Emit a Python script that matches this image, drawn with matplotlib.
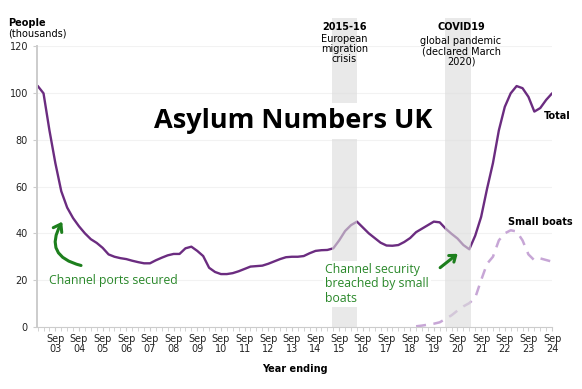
import matplotlib
matplotlib.use('Agg')
import matplotlib.pyplot as plt
from matplotlib.patches import Rectangle, FancyArrowPatch

# Quarterly data, year ending Dec 2002 .. Sep 2024 (thousands of people)
total = [103, 99.8, 84, 70, 58, 51, 46.5, 43, 40, 37.5, 35.9, 33.8,
         31, 30, 29.4, 29, 28.3, 27.7, 27.2, 27.2, 28.5, 29.6, 30.6, 31.2,
         31.2, 33.6, 34.3, 32.5, 30.3, 25.3, 23.5, 22.6, 22.6, 23, 23.8, 24.8,
         25.8, 26, 26.2, 27, 28, 29, 29.8, 30, 30, 30.3, 31.5, 32.5,
         32.8, 32.9, 33.6, 37, 41, 43.5, 45, 42.5, 40, 38, 36, 34.8,
         34.7, 35, 36.3, 38, 40.5, 42, 43.5, 45, 44.7, 42, 39.8, 37.8,
         35, 33.2, 39, 47, 59, 70, 84, 94, 99.8, 102.9, 102, 98.3,
         92, 93.5, 97, 99.8]
boats_start = 64  # quarter index where small boat series starts (Dec 2018)
small_boats = [0.3, 0.6, 1.0, 1.4, 2.0, 3.5, 5.0, 7.0, 8.8, 10.2, 12.5, 20,
               27, 30, 37, 40, 41.3, 40.8, 37, 31, 28.5, 29.3, 28.6, 27.9]

tick_pos = list(range(3, 88, 4))
tick_labels = ['Sep\n%02d' % y for y in range(3, 25)]
y_ticks = [0, 20, 40, 60, 80, 100, 120]

# shaded periods (quarter index)
bands = [(49.7, 54.0), (68.9, 73.3)]

purple = '#6b2c80'
lilac = '#c7a6d6'
green = '#2a882a'

fig = plt.figure(figsize=(5.82, 3.89), dpi=100)
ax = fig.add_axes([0.0636, 0.1594, 0.885, 0.7223])

x_total = list(range(len(total)))
x_boats = list(range(boats_start, boats_start + len(small_boats)))
ax.plot(x_total, total, color=purple, lw=1.7, zorder=2, solid_capstyle='round')
ax.plot(x_boats, small_boats, color=lilac, lw=1.8, ls=(0, (4, 3)), zorder=2)

for x0, x1 in bands:
    ax.add_patch(Rectangle((x0, 0), x1 - x0, 132, color='#dcdcdc', alpha=0.62,
                           lw=0, zorder=3, clip_on=False))

ax.set_xlim(-0.1, 87)
ax.set_ylim(0, 120)
ax.set_yticks(y_ticks)
ax.set_xticks(tick_pos)
ax.set_xticklabels(tick_labels, fontsize=7, color='#222222', linespacing=1.0)
ax.set_xticks(range(0, 88), minor=True)
ax.tick_params(axis='y', labelsize=7, colors='#222222', length=3, color='#cccccc')
ax.tick_params(axis='x', which='both', length=3, color='#cccccc', pad=2)
ax.grid(axis='y', color='#f2f2f2', lw=0.8, zorder=0)
ax.set_axisbelow(True)
for s in ['top', 'right']:
    ax.spines[s].set_visible(False)
ax.spines['left'].set_color('#cccccc')
ax.spines['left'].set_linewidth(1.4)
ax.spines['bottom'].set_color('#cccccc')

ax.set_xlabel('Year ending', fontsize=7, fontweight='bold', labelpad=7)
fig.text(0.014, 0.929, 'People', fontsize=7, fontweight='bold', va='bottom')
fig.text(0.014, 0.900, '(thousands)', fontsize=7, va='bottom')

ax.text(43.2, 88, 'Asylum Numbers UK', fontsize=19.5, fontweight='bold',
        family='Open Sans', ha='center', va='center', zorder=5,
        bbox=dict(facecolor='white', edgecolor='none', pad=3.5))

ax.text(85.6, 90.1, 'Total', fontsize=7, fontweight='bold', ha='left', va='center', zorder=5)
ax.text(79.5, 44.8, 'Small boats', fontsize=7, fontweight='bold', ha='left', va='center', zorder=5)

ax.text(51.9, 128.3, '2015-16', fontsize=7, fontweight='bold', ha='center', va='center', zorder=5)
ax.text(51.9, 118.7, 'European\nmigration\ncrisis', fontsize=7, ha='center', va='center',
        linespacing=1.02, zorder=5)
ax.text(71.6, 128, 'COVID19', fontsize=7, fontweight='bold', ha='center', va='center', zorder=5)
ax.text(71.6, 117.8, 'global pandemic\n(declared March\n2020)', fontsize=7, ha='center',
        va='center', linespacing=1.02, zorder=5)

ax.text(2.0, 20, 'Channel ports secured', fontsize=8.8, color=green, family='Open Sans',
        ha='left', va='center', zorder=5)
ax.text(48.55, 18.4, 'Channel security\nbreached by small\nboats', fontsize=8.8, color=green,
        family='Open Sans', ha='left', va='center', linespacing=1.12, zorder=5,
        bbox=dict(facecolor='white', edgecolor='none', pad=1.5))

arr1 = FancyArrowPatch((7.8, 26.0), (4.4, 46.0), connectionstyle='arc3,rad=-0.7',
                       arrowstyle='->,head_length=5,head_width=3.5', color='#1d7f1d',
                       lw=2.2, zorder=5)
ax.add_patch(arr1)
arr2 = FancyArrowPatch((67.7, 24.6), (71.4, 32.0),
                       arrowstyle='->,head_length=4,head_width=3', color='#1d7f1d',
                       lw=2.2, zorder=5)
ax.add_patch(arr2)

fig.savefig('out.png', dpi=100)
